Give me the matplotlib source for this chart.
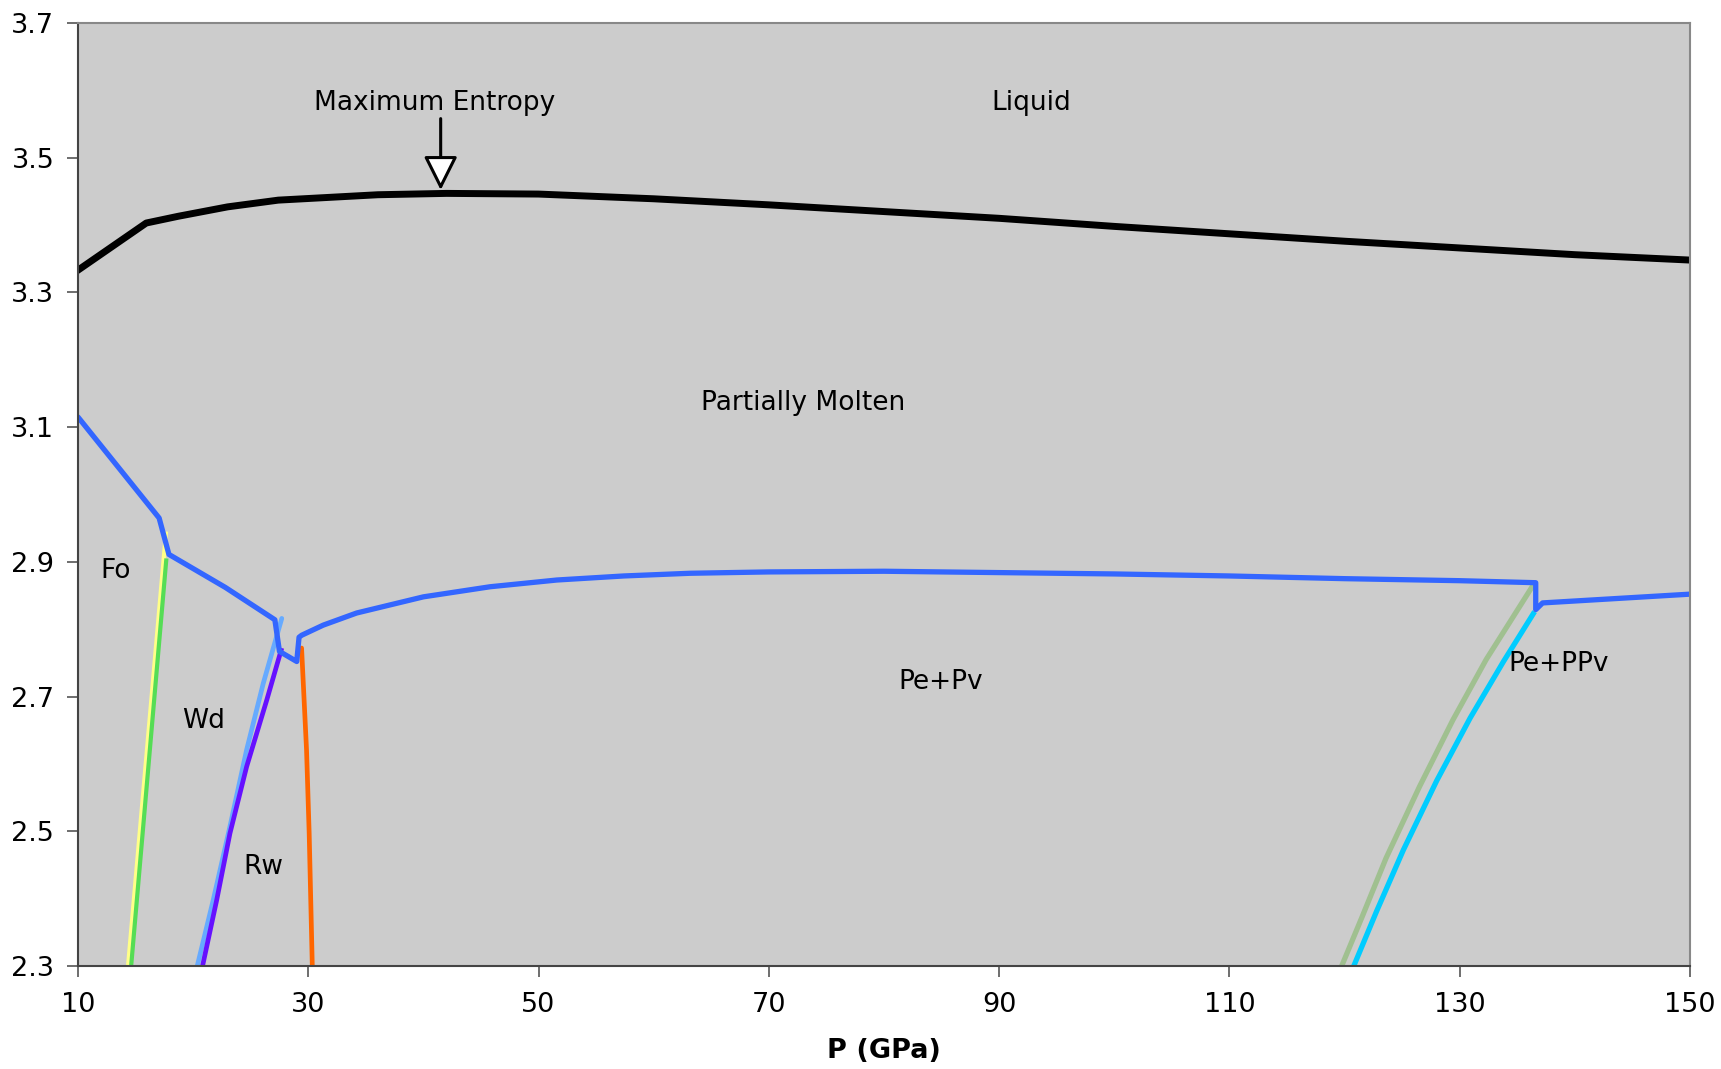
import matplotlib.pyplot as plt

# Liquidus (maximum entropy) curve
liq_p = [10, 15.93, 18.7, 23.0, 27.4, 36.05, 42, 50, 60, 70, 80, 90, 100, 110, 120, 130, 140, 150]
liq_t = [3.333, 3.403, 3.413, 3.427, 3.437, 3.445, 3.447, 3.446, 3.439, 3.430, 3.420, 3.410, 3.398, 3.387, 3.376, 3.366, 3.356, 3.348]

# Solidus curve
sol_p = [10, 17.05, 17.9, 22.8, 27.1, 27.5, 29.0, 29.2, 29.43, 31.3, 34.2, 40.0, 45.8, 51.6, 57.4, 63.15, 70, 80, 90, 100, 110, 120, 130, 136.6, 136.6, 137.2, 150]
sol_t = [3.115, 2.965, 2.911, 2.862, 2.814, 2.767, 2.752, 2.788, 2.791, 2.806, 2.824, 2.848, 2.863, 2.873, 2.879, 2.883, 2.885, 2.886, 2.884, 2.882, 2.879, 2.875, 2.872, 2.869, 2.829, 2.839, 2.852]

# Phase boundaries
fo_y_p = [14.35, 17.65]
fo_y_t = [2.3, 2.945]
fo_g_p = [14.62, 17.68]
fo_g_t = [2.3, 2.905]
wd_p = [20.36, 21.75, 23.2, 24.65, 26.1, 27.7]
wd_t = [2.3, 2.398, 2.507, 2.621, 2.72, 2.816]
rw_p = [20.82, 22.05, 23.2, 24.65, 26.4, 27.7]
rw_t = [2.3, 2.398, 2.497, 2.596, 2.695, 2.772]
pv_p = [30.35, 30.08, 29.85, 29.42]
pv_t = [2.3, 2.497, 2.621, 2.772]
ppv_a_p = [119.75, 121.5, 123.6, 126.5, 129.4, 132.3, 136.4]
ppv_a_t = [2.3, 2.372, 2.460, 2.566, 2.665, 2.755, 2.866]
ppv_b_p = [120.8, 122.8, 125.1, 128.0, 130.9, 133.8, 136.5]
ppv_b_t = [2.3, 2.382, 2.472, 2.575, 2.668, 2.752, 2.826]

labels = ["Maximum Entropy", "Liquid", "Partially Molten", "Fo", "Wd", "Rw", "Pe+Pv", "Pe+PPv"]
label_p = [41.0, 92.8, 73.0, 13.3, 20.9, 26.1, 84.9, 138.6]
label_t = [3.581, 3.581, 3.136, 2.887, 2.664, 2.447, 2.721, 2.748]

fig = plt.figure(figsize=(17.21, 10.69), dpi=100)
ax = fig.add_axes([0.0453, 0.0964, 0.9367, 0.8821])
ax.set_facecolor("#cccccc")

ax.plot(fo_y_p, fo_y_t, color="#ffff88", lw=3, solid_capstyle="butt")
ax.plot(fo_g_p, fo_g_t, color="#55dd55", lw=3, solid_capstyle="butt")
ax.plot(wd_p, wd_t, color="#66aaff", lw=3.4, solid_capstyle="round")
ax.plot(rw_p, rw_t, color="#6611ff", lw=3.4, solid_capstyle="butt")
ax.plot(pv_p, pv_t, color="#ff6600", lw=3.4, solid_capstyle="round")
ax.plot(ppv_a_p, ppv_a_t, color="#a0c090", lw=3.8, solid_capstyle="butt")
ax.plot(ppv_b_p, ppv_b_t, color="#00ccff", lw=3.8, solid_capstyle="butt")
ax.plot(sol_p, sol_t, color="#3366ff", lw=3.8, solid_joinstyle="round", solid_capstyle="round")
ax.plot(liq_p, liq_t, color="black", lw=5, solid_joinstyle="round")

for s, px, ty in zip(labels, label_p, label_t):
    ax.text(px, ty, s, ha="center", va="center", fontsize=19)

# arrow pointing at the maximum of the liquidus
ax.annotate("", xy=(41.5, 3.452), xytext=(41.5, 3.558),
            arrowprops=dict(arrowstyle="-|>,head_length=1.1,head_width=0.55",
                            facecolor="white", edgecolor="black", lw=2.2,
                            mutation_scale=19, shrinkA=0, shrinkB=0))

ax.set_xlim(10, 150)
ax.set_ylim(2.3, 3.7)
ax.set_xticks(range(10, 151, 20))
ax.set_yticks([2.3, 2.5, 2.7, 2.9, 3.1, 3.3, 3.5, 3.7])
ax.tick_params(labelsize=19.5, length=8, width=1.2, color="#555555")
ax.tick_params(axis="y", pad=9)
ax.tick_params(axis="x", pad=11)
ax.set_xlabel("P (GPa)", fontsize=19.5, fontweight="bold", labelpad=14)
for side in ["left", "bottom"]:
    ax.spines[side].set_color("#444444")
    ax.spines[side].set_linewidth(1.5)
for side in ["top", "right"]:
    ax.spines[side].set_color("#888888")
    ax.spines[side].set_linewidth(1.5)

fig.savefig("out.png", dpi=100)
